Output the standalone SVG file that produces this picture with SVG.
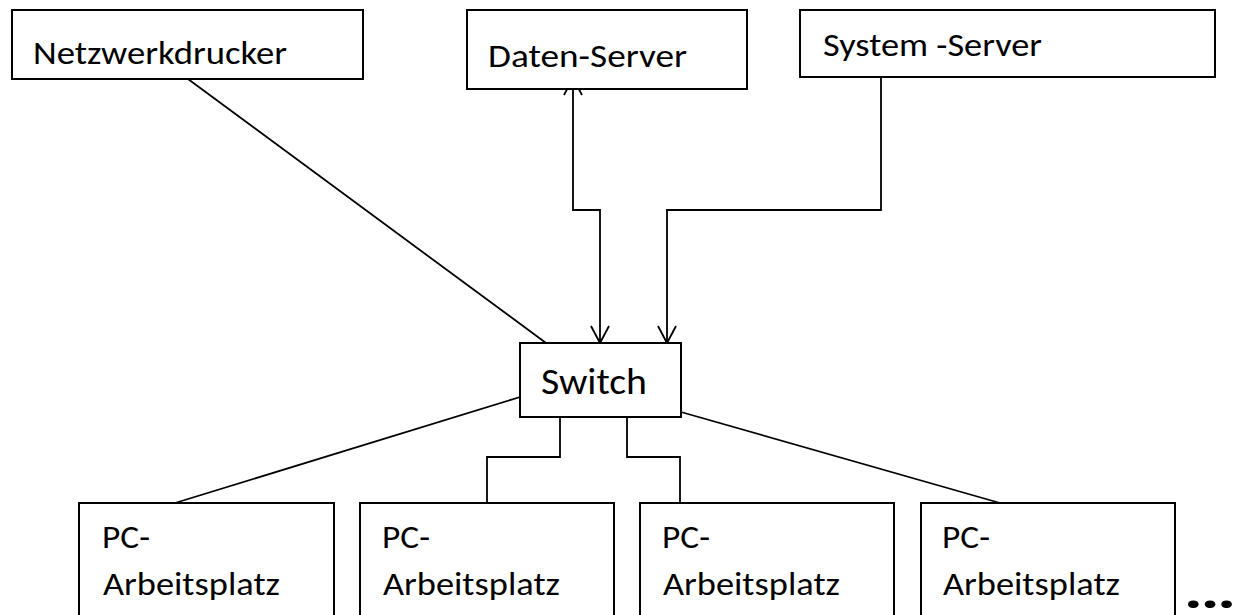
<svg xmlns="http://www.w3.org/2000/svg" width="1243" height="615" viewBox="0 0 1243 615">
<style>
  .box { fill: #ffffff; stroke: #000000; stroke-width: 2; }
  .lbl { font-family: "Carlito", "Lato", "Noto Sans", sans-serif; font-size: 33px; fill: #000000; }
  .big { font-size: 37px; }
  .conn { fill: none; stroke: #000000; stroke-width: 1.8; }
  .dots { font-family: "Lato", "Noto Sans", sans-serif; font-size: 50px; font-weight: bold; fill: #000000; }
</style>
<defs>
  <marker id="arr" viewBox="0 0 20 20" refX="18" refY="10" markerWidth="20" markerHeight="20" markerUnits="userSpaceOnUse" orient="auto-start-reverse">
    <path d="M1,1 L18,10 L1,19" fill="none" stroke="#000000" stroke-width="1.8"/>
  </marker>
</defs>
<rect width="1243" height="615" fill="#ffffff"/>

<g id="connectors">
  <line class="conn" x1="188" y1="79" x2="546" y2="343"/>
  <polyline class="conn" points="573,78 573,210 600,210 600,343" marker-start="url(#arr)" marker-end="url(#arr)"/>
  <polyline class="conn" points="881,77 881,210 667,210 667,343" marker-end="url(#arr)"/>
  <line class="conn" x1="520" y1="397" x2="175" y2="503"/>
  <polyline class="conn" points="560,417 560,457 487,457 487,503"/>
  <polyline class="conn" points="627,417 627,457 680,457 680,503"/>
  <line class="conn" x1="681" y1="412" x2="1000" y2="503"/>
</g>

<g id="netzwerkdrucker">
  <rect class="box" x="12" y="10" width="351" height="69"/>
  <text class="lbl" x="33" y="64" textLength="254" lengthAdjust="spacingAndGlyphs">Netzwerkdrucker</text>
</g>
<g id="daten-server">
  <rect class="box" x="467" y="10" width="280" height="79"/>
  <text class="lbl" x="488" y="67" textLength="199" lengthAdjust="spacingAndGlyphs">Daten-Server</text>
</g>
<g id="system-server">
  <rect class="box" x="800" y="10" width="415" height="67"/>
  <text class="lbl" x="823" y="56" textLength="219" lengthAdjust="spacingAndGlyphs">System -Server</text>
</g>
<g id="switch">
  <rect class="box" x="520" y="343" width="161" height="74"/>
  <text class="lbl big" x="541" y="394" textLength="106" lengthAdjust="spacingAndGlyphs">Switch</text>
</g>
<g id="pc1">
  <rect class="box" x="79" y="503" width="255" height="130"/>
  <text class="lbl" x="102" y="548" textLength="48" lengthAdjust="spacingAndGlyphs">PC-</text>
  <text class="lbl" x="103" y="595" textLength="177" lengthAdjust="spacingAndGlyphs">Arbeitsplatz</text>
</g>
<g id="pc2">
  <rect class="box" x="360" y="503" width="254" height="130"/>
  <text class="lbl" x="382" y="548" textLength="48" lengthAdjust="spacingAndGlyphs">PC-</text>
  <text class="lbl" x="383" y="595" textLength="177" lengthAdjust="spacingAndGlyphs">Arbeitsplatz</text>
</g>
<g id="pc3">
  <rect class="box" x="640" y="503" width="254" height="130"/>
  <text class="lbl" x="662" y="548" textLength="48" lengthAdjust="spacingAndGlyphs">PC-</text>
  <text class="lbl" x="663" y="595" textLength="177" lengthAdjust="spacingAndGlyphs">Arbeitsplatz</text>
</g>
<g id="pc4">
  <rect class="box" x="921" y="503" width="254" height="130"/>
  <text class="lbl" x="942" y="548" textLength="48" lengthAdjust="spacingAndGlyphs">PC-</text>
  <text class="lbl" x="943" y="595" textLength="177" lengthAdjust="spacingAndGlyphs">Arbeitsplatz</text>
</g>
<g id="ellipsis">
  <text class="dots" x="1185" y="608" textLength="50" lengthAdjust="spacingAndGlyphs">...</text>
</g>
</svg>
